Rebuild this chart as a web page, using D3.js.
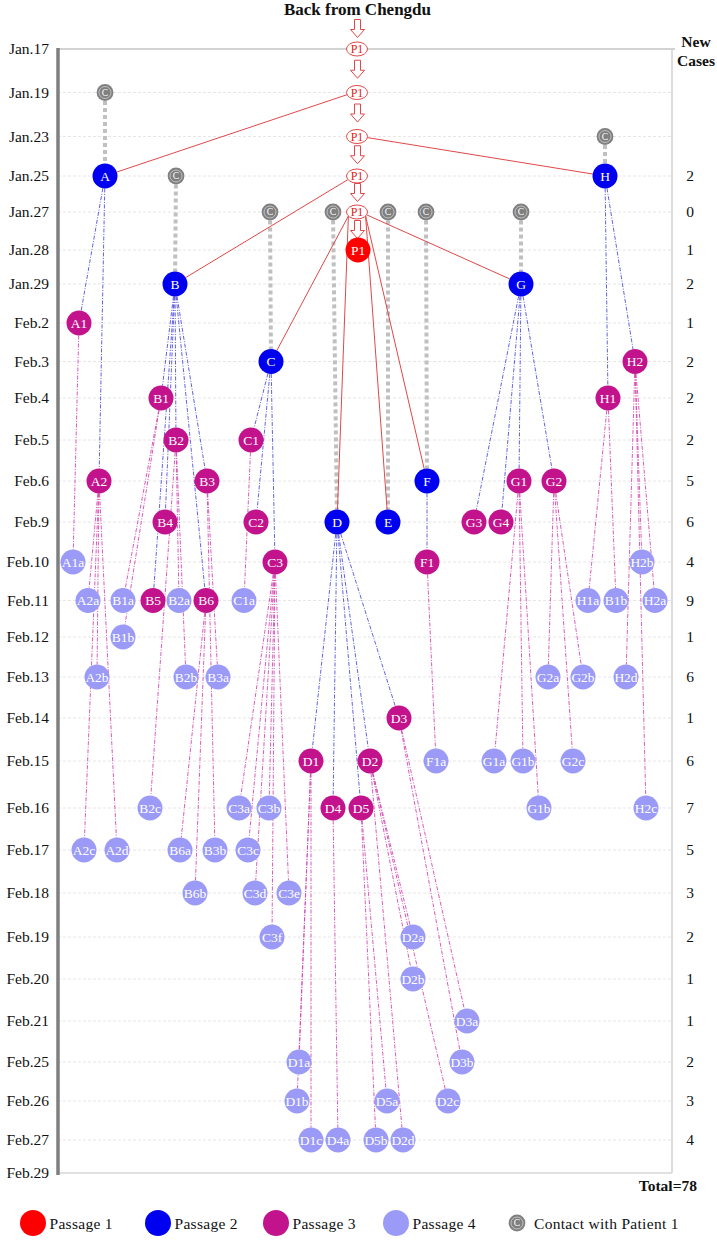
<!DOCTYPE html>
<html><head><meta charset="utf-8">
<script src="https://cdn.jsdelivr.net/npm/d3@7"></script>
<style>
body{margin:0;background:#fff}
svg{display:block}
text{font-family:"Liberation Serif","Times New Roman",serif}
</style>
</head><body>
<svg id="chart" width="717" height="1240"></svg>
<script>
// ---------- DATA ----------
const dates = ["Jan.17","Jan.19","Jan.23","Jan.25","Jan.27","Jan.28","Jan.29","Feb.2","Feb.3","Feb.4","Feb.5","Feb.6","Feb.9","Feb.10","Feb.11","Feb.12","Feb.13","Feb.14","Feb.15","Feb.16","Feb.17","Feb.18","Feb.19","Feb.20","Feb.21","Feb.25","Feb.26","Feb.27","Feb.29"];
const newCases = ["","","",2,0,1,2,1,2,2,2,5,6,4,9,1,6,1,6,7,5,3,2,1,1,2,3,4,""];
const totalCases = 78;

// Patient 1 travel chain (dates at which P1 appears before onset)
const p1Chain = ["Jan.17","Jan.19","Jan.23","Jan.25","Jan.27"];
const p1Lane = 299;
// Passage 1: [label, onset date, lane]
const passage1 = [["P1","Jan.28",300]];
// Passage 2: [label, date of contact with P1, onset date, lane]
const passage2 = [
  ["A","Jan.19","Jan.25",47],
  ["B","Jan.25","Jan.29",117],
  ["C","Jan.27","Feb.3",213],
  ["D","Jan.27","Feb.9",279],
  ["E","Jan.27","Feb.9",330],
  ["F","Jan.27","Feb.6",369],
  ["G","Jan.27","Jan.29",463],
  ["H","Jan.23","Jan.25",547]
];
// contact markers: [case, contact date, lane]
const contacts = [
  ["A","Jan.19",47],["B","Jan.25",118],["C","Jan.27",212],["D","Jan.27",275],
  ["E","Jan.27",330],["F","Jan.27",368],["G","Jan.27",463],["H","Jan.23",547]
];
// Passage 3: [label, parent, onset date, lane]
const passage3 = [
  ["A1","A","Feb.2",21],["A2","A","Feb.6",41],
  ["B1","B","Feb.4",103],["B2","B","Feb.5",118],["B3","B","Feb.6",149],
  ["B4","B","Feb.9",107],["B5","B","Feb.11",95],["B6","B","Feb.11",148],
  ["C1","C","Feb.5",193],["C2","C","Feb.9",198],["C3","C","Feb.10",217],
  ["D1","D","Feb.15",253],["D2","D","Feb.15",312],["D3","D","Feb.14",341],
  ["D4","D","Feb.16",275],["D5","D","Feb.16",303],
  ["F1","F","Feb.10",369],
  ["G1","G","Feb.6",461],["G2","G","Feb.6",496],["G3","G","Feb.9",416],["G4","G","Feb.9",443],
  ["H1","H","Feb.4",550],["H2","H","Feb.3",577]
];
// Passage 4: [label, parent, onset date, lane]
const passage4 = [
  ["A1a","A1","Feb.10",15],
  ["A2a","A2","Feb.11",30],["A2b","A2","Feb.13",39],["A2c","A2","Feb.17",26],["A2d","A2","Feb.17",59],
  ["B1a","B1","Feb.11",65],["B1b","B1","Feb.12",65],
  ["B2a","B2","Feb.11",121],["B2b","B2","Feb.13",128],["B2c","B2","Feb.16",92],
  ["B3a","B3","Feb.13",160],["B3b","B3","Feb.17",157],
  ["B6a","B6","Feb.17",122],["B6b","B6","Feb.18",137],
  ["C1a","C1","Feb.11",186],
  ["C3a","C3","Feb.16",181],["C3b","C3","Feb.16",211],["C3c","C3","Feb.17",190],
  ["C3d","C3","Feb.18",197],["C3e","C3","Feb.18",231],["C3f","C3","Feb.19",214],
  ["D1a","D1","Feb.25",241],["D1b","D1","Feb.26",239],["D1c","D1","Feb.27",253],
  ["D2a","D2","Feb.19",355],["D2b","D2","Feb.20",355],["D2c","D2","Feb.26",390],["D2d","D2","Feb.27",345],
  ["D3a","D3","Feb.21",409],["D3b","D3","Feb.25",404],
  ["D4a","D4","Feb.27",280],
  ["D5a","D5","Feb.26",329],["D5b","D5","Feb.27",318],
  ["F1a","F1","Feb.15",378],
  ["G1a","G1","Feb.15",436],["G1b","G1","Feb.15",465],["G1b","G1","Feb.16",481],
  ["G2a","G2","Feb.13",490],["G2b","G2","Feb.13",525],["G2c","G2","Feb.15",515],
  ["H1a","H1","Feb.11",530],["B1b","H1","Feb.11",558],
  ["H2a","H2","Feb.11",597],["H2b","H2","Feb.10",584],["H2c","H2","Feb.16",588],["H2d","H2","Feb.13",568]
];
const legendItems = ["Passage 1","Passage 2","Passage 3","Passage 4","Contact with Patient 1"];

// ---------- LAYOUT ----------
const colors = {p1:"#ff0000", p2:"#0000f0", p3:"#c2138c", p4:"#9b9bf7", contact:"#808080",
  red:"#e04848", blueLine:"#5050e0", magLine:"#d548b2"};
const R = 12.5, RC = 8.4, ERX = 10.5, ERY = 7;
const plotL = 58, plotR = 672, plotT = 49, plotB = 1173;

const svg = d3.select("#chart");
const x = d3.scaleLinear().domain([0, 614]).range([plotL, plotR]);
const y = d3.scaleOrdinal().domain(dates).range(
  [49,92.5,136.5,176,212,250,284,323,361.5,398,440,481,522,562,600.5,637,677,718,761,808,850,893,937,979,1021,1062,1101,1140,1173]);

// gridlines
svg.append("g").selectAll("line").data(dates.slice(1, -1)).join("line")
  .attr("x1", plotL).attr("x2", plotR).attr("y1", d => y(d)).attr("y2", d => y(d))
  .attr("stroke", "#e6e6e6").attr("stroke-dasharray", "3,2").attr("stroke-width", 1);

// frame
svg.append("line").attr("x1", plotL).attr("x2", plotR + 3).attr("y1", y(dates[0])).attr("y2", y(dates[0]))
  .attr("stroke", "#c4c4c4").attr("stroke-width", 1.5);
svg.append("line").attr("x1", plotL).attr("x2", plotR).attr("y1", y(dates[dates.length-1])).attr("y2", y(dates[dates.length-1]))
  .attr("stroke", "#d6d6d6").attr("stroke-width", 1.5);
svg.append("line").attr("x1", plotR).attr("x2", plotR).attr("y1", y(dates[0])).attr("y2", y(dates[dates.length-1]))
  .attr("stroke", "#d2d2d2").attr("stroke-width", 1.5);

// left axis
const yAxis = d3.axisLeft(y).tickSize(0).tickPadding(9);
const ag = svg.append("g").attr("transform", `translate(${plotL},0)`).call(yAxis);
ag.select(".domain").attr("stroke", "#7f7f7f").attr("stroke-width", 3.5)
  .attr("d", `M0,${plotT-1}V${plotB+2}`);
ag.selectAll("text").attr("font-size", 15.5).attr("fill", "#111")
  .attr("font-family", '"Liberation Serif","Times New Roman",serif');

// right counts
svg.append("g").selectAll("text").data(dates).join("text")
  .attr("x", 690).attr("y", d => y(d) + 5).attr("text-anchor", "middle")
  .attr("font-size", 15.5).attr("fill", "#111")
  .text((d, i) => newCases[i]);
const nc = svg.append("text").attr("text-anchor", "middle").attr("font-weight", "bold").attr("font-size", 15.5).attr("fill", "#111");
nc.append("tspan").attr("x", 696).attr("y", 47).text("New");
nc.append("tspan").attr("x", 696).attr("y", 66).text("Cases");
svg.append("text").attr("x", 697).attr("y", 1191).attr("text-anchor", "end")
  .attr("font-weight", "bold").attr("font-size", 15.5).attr("fill", "#111").text("Total=" + totalCases);

// title
svg.append("text").attr("x", 357.5).attr("y", 15).attr("text-anchor", "middle")
  .attr("font-weight", "bold").attr("font-size", 17).attr("fill", "#111").text("Back from Chengdu");

// ---------- helpers ----------
const pos = {};
passage2.forEach(d => pos[d[0]] = {x: x(d[3]), y: y(d[2])});
passage3.forEach(d => pos[d[0]] = {x: x(d[3]), y: y(d[2])});

function edge(sx, sy, tx, ty, rs, rt) {
  const dx = tx - sx, dy = ty - sy, L = Math.hypot(dx, dy);
  return [sx + dx * rs / L, sy + dy * rs / L, tx - dx * rt / L, ty - dy * rt / L];
}
// red links leave the P1 ellipse from its side facing the target
function ellipseEdge(cx, cy, tx, ty, rt) {
  const dx = tx - cx, dy = ty - cy;
  const a = Math.min(Math.atan2(Math.abs(dy), Math.abs(dx)), 35 * Math.PI / 180) * Math.sign(dy || 1);
  const sx = cx + Math.sign(dx) * ERX * Math.cos(a), sy = cy + ERY * Math.sin(a);
  const ex = tx - sx, ey = ty - sy, L = Math.hypot(ex, ey);
  return [sx, sy, tx - ex * rt / L, ty - ey * rt / L];
}

// contact dotted lines
svg.append("g").selectAll("line").data(contacts).join("line")
  .each(function(d) {
    const t = pos[d[0]];
    const sx = x(d[2]), sy = y(d[1]);
    const e = edge(sx, sy, t.x, t.y, RC, R);
    d3.select(this).attr("x1", e[0]).attr("y1", e[1]).attr("x2", e[2]).attr("y2", e[3]);
  })
  .attr("stroke", "#c0c0c0").attr("stroke-width", 4).attr("stroke-dasharray", "4,3");

// red lines P1 -> passage 2
svg.append("g").selectAll("line").data(passage2).join("line")
  .each(function(d) {
    const e = ellipseEdge(x(p1Lane), y(d[1]), x(d[3]), y(d[2]), R);
    d3.select(this).attr("x1", e[0]).attr("y1", e[1]).attr("x2", e[2]).attr("y2", e[3]);
  })
  .attr("stroke", colors.red).attr("stroke-width", 1);

// blue dash-dot: passage 2 -> passage 3
svg.append("g").selectAll("line").data(passage3).join("line")
  .each(function(d) {
    const s = pos[d[1]];
    const e = edge(s.x, s.y, x(d[3]), y(d[2]), R, R);
    d3.select(this).attr("x1", e[0]).attr("y1", e[1]).attr("x2", e[2]).attr("y2", e[3]);
  })
  .attr("stroke", colors.blueLine).attr("stroke-width", 0.9).attr("stroke-dasharray", "4,1.5,1,1.5");

// magenta dash-dot: passage 3 -> passage 4
svg.append("g").selectAll("line").data(passage4).join("line")
  .each(function(d) {
    const s = pos[d[1]];
    const e = edge(s.x, s.y, x(d[3]), y(d[2]), R, R);
    d3.select(this).attr("x1", e[0]).attr("y1", e[1]).attr("x2", e[2]).attr("y2", e[3]);
  })
  .attr("stroke", colors.magLine).attr("stroke-width", 0.9).attr("stroke-dasharray", "4,1.5,1,1.5");

// hollow arrows along P1 chain
function arrow(cx, cy) {
  return `M${cx-3},${cy-9}L${cx+3},${cy-9}L${cx+3},${cy+1}L${cx+7},${cy+1}L${cx},${cy+9}L${cx-7},${cy+1}L${cx-3},${cy+1}Z`;
}
const chainYs = p1Chain.map(d => y(d)).concat([y(passage1[0][1])]);
const arrowYs = [28.5].concat(d3.pairs(chainYs).map(p => (p[0] + p[1]) / 2 - 1.5));
svg.append("g").selectAll("path").data(arrowYs).join("path")
  .attr("d", d => arrow(x(p1Lane) + 0.5, d))
  .attr("fill", "#fff").attr("stroke", colors.red).attr("stroke-width", 1);

// P1 chain ellipses
const chain = svg.append("g").selectAll("g").data(p1Chain).join("g")
  .attr("transform", d => `translate(${x(p1Lane)},${y(d)})`);
chain.append("ellipse").attr("rx", ERX).attr("ry", ERY).attr("fill", "#fff")
  .attr("stroke", colors.red).attr("stroke-width", 1);
chain.append("text").attr("text-anchor", "middle").attr("dy", "0.35em")
  .attr("font-size", 12).attr("fill", "#e02020").text("P1");

// contact circles
function contactMark(g) {
  g.append("circle").attr("r", RC).attr("fill", colors.contact);
  g.append("circle").attr("r", 6).attr("fill", "none").attr("stroke", "#d8d8d8").attr("stroke-width", 0.7);
  g.append("text").attr("text-anchor", "middle").attr("dy", "0.35em").attr("font-size", 9.5)
    .attr("fill", "#fff").text("C");
}
svg.append("g").selectAll("g").data(contacts).join("g")
  .attr("transform", d => `translate(${x(d[2])},${y(d[1])})`)
  .call(contactMark);

// nodes
function drawNodes(data, laneIdx, dateIdx, fill) {
  const g = svg.append("g").selectAll("g").data(data).join("g")
    .attr("transform", d => `translate(${x(d[laneIdx])},${y(d[dateIdx])})`);
  g.append("circle").attr("r", R).attr("fill", fill);
  g.append("text").attr("text-anchor", "middle").attr("dy", "0.35em")
    .attr("font-size", 13.5).attr("fill", "#fff").text(d => d[0]);
}
drawNodes(passage1, 2, 1, colors.p1);
drawNodes(passage2, 3, 2, colors.p2);
drawNodes(passage3, 3, 2, colors.p3);
drawNodes(passage4, 3, 2, colors.p4);

// legend
const legX = [33, 158, 276, 396, 517];
const legFill = [colors.p1, colors.p2, colors.p3, colors.p4];
const lg = svg.append("g").selectAll("g").data(legendItems).join("g")
  .attr("transform", (d, i) => `translate(${legX[i]},1223)`);
lg.filter((d, i) => i < 4).append("circle").attr("r", 13).attr("fill", (d, i) => legFill[i]);
lg.filter((d, i) => i === 4).call(contactMark);
lg.append("text").attr("x", (d, i) => i < 4 ? 16.5 : 17).attr("y", 6)
  .attr("font-size", 15.5).attr("fill", "#111").attr("letter-spacing", 0.3).text(d => d);
</script>
</body></html>
